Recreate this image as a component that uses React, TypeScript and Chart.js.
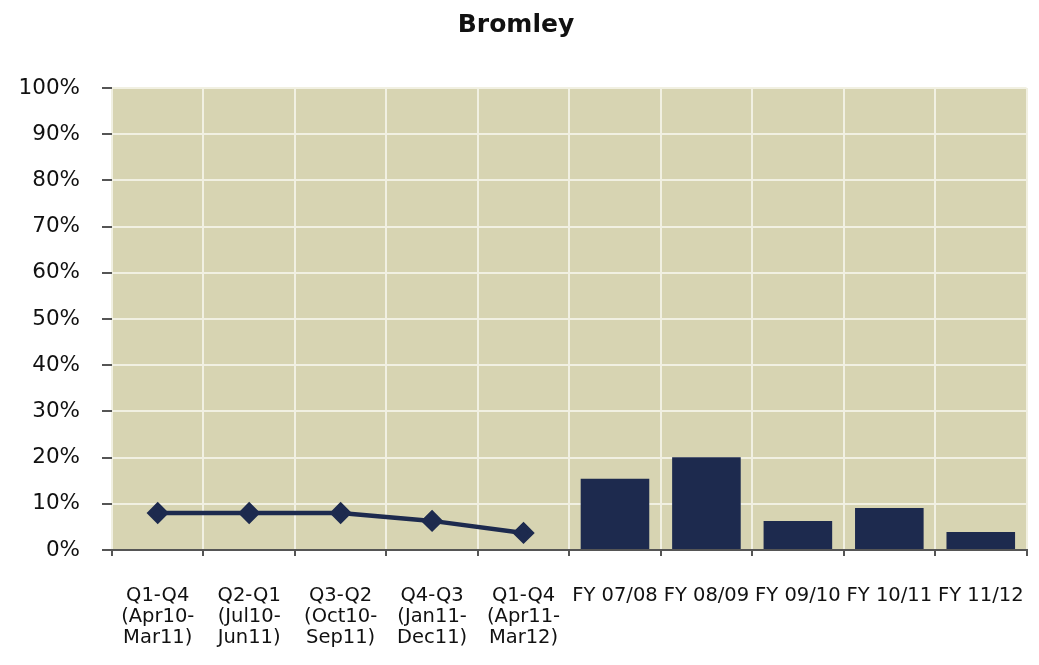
import React, { useEffect, useRef } from "react";
import { Chart, registerables } from "chart.js";

Chart.register(...registerables);

const categories: string[][] = [
  ["Q1-Q4", "(Apr10-", "Mar11)"],
  ["Q2-Q1", "(Jul10-", "Jun11)"],
  ["Q3-Q2", "(Oct10-", "Sep11)"],
  ["Q4-Q3", "(Jan11-", "Dec11)"],
  ["Q1-Q4", "(Apr11-", "Mar12)"],
  ["FY 07/08"],
  ["FY 08/09"],
  ["FY 09/10"],
  ["FY 10/11"],
  ["FY 11/12"],
];

const rollingValues: (number | null)[] = [8.0, 8.0, 8.0, 6.3, 3.7, null, null, null, null, null];
const annualValues: (number | null)[] = [null, null, null, null, null, 15.4, 20.1, 6.3, 9.1, 3.9];
const yTicks: number[] = [0, 10, 20, 30, 40, 50, 60, 70, 80, 90, 100];

const navy = "#1d2a4e";
const font = "DejaVu Sans, Liberation Sans, Arial, sans-serif";

const plotBg = {
  id: "plotBg",
  beforeDraw(chart: any) {
    const { ctx, chartArea } = chart;
    if (!chartArea) return;
    ctx.save();
    ctx.fillStyle = "#d7d4b2";
    ctx.fillRect(chartArea.left, chartArea.top, chartArea.right - chartArea.left, chartArea.bottom - chartArea.top);
    ctx.restore();
  },
};

export default function App() {
  const ref = useRef<HTMLCanvasElement | null>(null);
  useEffect(() => {
    if (!ref.current) return;
    const chart = new Chart(ref.current, {
      type: "bar",
      data: {
        labels: categories,
        datasets: [
          {
            type: "line",
            label: "Rolling",
            data: rollingValues,
            borderColor: navy,
            backgroundColor: navy,
            borderWidth: 4.5,
            pointStyle: "rectRot",
            pointRadius: 8,
            pointBackgroundColor: navy,
            pointBorderColor: navy,
            tension: 0,
            spanGaps: false,
          } as any,
          {
            type: "bar",
            label: "Annual",
            data: annualValues,
            backgroundColor: navy,
            borderWidth: 0,
            barPercentage: 0.75,
            categoryPercentage: 1,
          },
        ],
      },
      options: {
        animation: false,
        responsive: true,
        maintainAspectRatio: false,
        layout: { padding: { left: 0, right: 7, top: 0, bottom: 0 } },
        plugins: {
          legend: { display: false },
          tooltip: { enabled: false },
          title: {
            display: true,
            text: "Bromley",
            color: "#111",
            font: { family: font, size: 25, weight: "bold" },
            padding: { top: 10, bottom: 48 },
          },
        },
        scales: {
          x: {
            offset: true,
            grid: {
              display: true,
              offset: true,
              color: "#f1f0e2",
              lineWidth: 2,
              tickColor: "#555",
              tickLength: 6,
            },
            border: { display: true, color: "#555", width: 2 },
            ticks: {
              color: "#111",
              autoSkip: false,
              maxRotation: 0,
              minRotation: 0,
              padding: 30,
              font: { family: font, size: 19.5, lineHeight: 1.07 },
            },
            afterFit: (s: any) => {
              s.height = 115;
              s.paddingLeft = 0;
              s.paddingRight = 0;
            },
          },
          y: {
            min: 0,
            max: 100,
            afterBuildTicks: (s: any) => {
              s.ticks = yTicks.map((v) => ({ value: v }));
            },
            grid: {
              color: "#f1f0e2",
              lineWidth: 2,
              tickColor: "#555",
              tickLength: 10,
            },
            border: { display: false },
            ticks: {
              color: "#111",
              padding: 22,
              callback: (v: any) => v + "%",
              font: { family: font, size: 21.5 },
            },
            afterFit: (s: any) => {
              s.width = 112;
            },
          },
        },
      },
      plugins: [plotBg],
    });
    return () => chart.destroy();
  }, []);
  return (
    <div style={{ position: "fixed", left: 0, top: 0, width: 1039, height: 665, background: "#fff" }}>
      <canvas ref={ref} />
    </div>
  );
}
